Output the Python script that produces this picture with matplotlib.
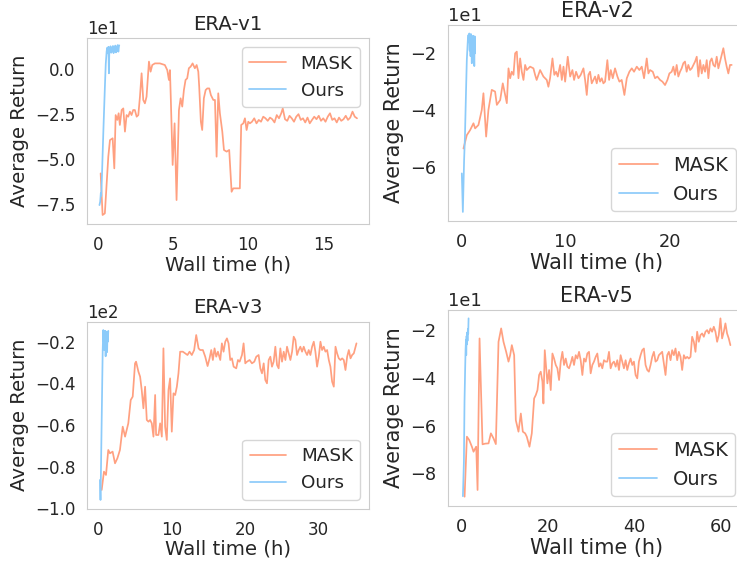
import matplotlib
matplotlib.use("Agg")
import matplotlib.pyplot as plt
import seaborn as sns

sns.set_style("whitegrid")
plt.rcParams['font.family'] = ['DejaVu Sans']

MASK_COLOR = "#FFA080"
OURS_COLOR = "#8CCBFA"

titles = ["ERA-v1", "ERA-v2", "ERA-v3", "ERA-v5"]
series_names = ["MASK", "Ours"]
xlabel = "Wall time (h)"
ylabel = "Average Return"

# ---------------- data (x: wall time in hours, y: average return) ----------------
mask_v1 = [(0.16, -57.8), (0.29, -80.9), (0.44, -80.0), (0.67, -48.5), (0.78, -39.3), (0.96, -38.3),
           (1.07, -55.0), (1.16, -25.4), (1.27, -28.1), (1.36, -24.4), (1.44, -30.9), (1.56, -22.6),
           (1.67, -21.7), (1.78, -34.6), (1.89, -25.4), (2.0, -26.3), (2.11, -23.5), (2.22, -25.4),
           (2.33, -22.6), (2.44, -22.6), (2.56, -26.3), (2.67, -25.4), (2.78, -15.2), (2.89, -2.2),
           (3.0, -17.0), (3.11, -18.9), (3.22, -15.2), (3.38, 4.3), (3.49, -1.3), (3.6, 2.4),
           (3.78, 3.3), (4.11, 3.3), (4.44, 2.4), (4.6, -0.4), (4.71, -5.9), (4.78, -0.4),
           (4.84, -17.0), (4.96, -53.1), (5.09, -30.0), (5.22, -72.6), (5.38, -22.6), (5.49, -16.1),
           (5.6, -20.7), (5.71, -11.5), (5.82, -5.9), (5.93, -5.0), (6.04, 0.6), (6.16, 1.5),
           (6.29, 3.3), (6.44, 0.6), (6.56, 2.4), (6.67, -1.3), (6.73, -9.6), (6.84, -29.1),
           (6.93, -33.7), (7.04, -16.1), (7.16, -11.5), (7.27, -10.6), (7.4, -10.6), (7.51, -14.3),
           (7.67, -17.0), (7.78, -17.0), (7.89, -48.5), (8.0, -13.3), (8.11, -24.4), (8.27, -34.6),
           (8.38, -44.8), (8.56, -45.7), (8.73, -44.8), (8.89, -68.0), (9.0, -66.1), (9.22, -66.1),
           (9.44, -66.1), (9.53, -30.9), (9.67, -30.0), (9.78, -27.2), (9.89, -33.7), (10.0, -29.1),
           (10.11, -30.0), (10.25, -29.1), (10.4, -27.2), (10.55, -30.0), (10.7, -28.1), (10.85, -29.1),
           (11.0, -26.3), (11.15, -27.2), (11.3, -28.6), (11.45, -26.8), (11.6, -27.7), (11.75, -29.5),
           (11.9, -25.4), (12.05, -27.2), (12.2, -24.4), (12.3, -21.7), (12.45, -27.7), (12.6, -28.6),
           (12.75, -25.8), (12.9, -27.2), (13.05, -29.1), (13.2, -26.3), (13.35, -24.9), (13.5, -28.1),
           (13.65, -27.2), (13.8, -29.5), (13.95, -26.8), (14.1, -30.0), (14.25, -28.1), (14.4, -26.3),
           (14.55, -27.7), (14.7, -25.8), (14.85, -28.6), (15.0, -27.2), (15.15, -29.1), (15.3, -26.3),
           (15.45, -24.4), (15.6, -28.1), (15.75, -27.2), (15.9, -29.5), (16.05, -26.8), (16.2, -28.6),
           (16.35, -27.7), (16.5, -25.8), (16.65, -28.1), (16.8, -26.8), (16.95, -23.5), (17.1, -26.3),
           (17.25, -27.2)]
ours_v1 = [(0.08, -75.4), (0.13, -73.5), (0.17, -68.8), (0.2, -70.2), (0.25, -58.5), (0.3, -45.0),
           (0.35, -32.0), (0.4, -20.0), (0.45, -8.0), (0.5, 3.0), (0.56, 10.0), (0.6, 12.0),
           (0.64, 8.9), (0.68, 12.5), (0.71, -2.2), (0.74, 11.0), (0.78, 9.5), (0.82, 12.8),
           (0.86, 9.2), (0.9, 12.0), (0.94, 10.0), (0.98, 13.0), (1.02, 9.0), (1.06, 12.2),
           (1.1, 10.5), (1.14, 13.2), (1.18, 9.4), (1.22, 12.6), (1.26, 10.2), (1.3, 13.5),
           (1.34, 9.8), (1.38, 12.8), (1.4, 13.3)]

mask_v2 = [(0.16, -53.6), (0.48, -48.9), (0.8, -47.1), (1.12, -44.7), (1.28, -46.5), (1.6, -45.3),
           (1.92, -40.0), (2.08, -34.1), (2.34, -49.4), (2.56, -40.0), (2.88, -32.9), (3.2, -33.5),
           (3.37, -38.2), (3.69, -36.5), (3.94, -30.6), (4.17, -34.7), (4.33, -37.6), (4.49, -25.3),
           (4.65, -28.8), (4.8, -26.5), (4.97, -27.6), (5.13, -20.0), (5.29, -19.4), (5.45, -28.8),
           (5.61, -21.8), (5.77, -26.5), (5.93, -29.4), (6.09, -24.1), (6.25, -25.9), (6.57, -24.7),
           (6.89, -25.3), (7.05, -27.6), (7.2, -29.4), (7.53, -25.9), (7.85, -28.2), (8.17, -29.4),
           (8.33, -31.8), (8.49, -28.8), (8.72, -21.8), (8.9, -27.6), (9.07, -26.5), (9.23, -28.2),
           (9.46, -24.1), (9.62, -29.4), (9.78, -24.7), (9.94, -30.0), (10.19, -21.2), (10.42, -28.2),
           (10.64, -25.9), (10.8, -29.4), (10.99, -26.5), (11.22, -28.8), (11.44, -27.6), (11.7, -25.3),
           (11.86, -29.4), (12.02, -34.7), (12.18, -27.6), (12.34, -26.5), (12.5, -30.6), (12.66, -29.4),
           (12.82, -28.2), (12.98, -30.6), (13.14, -27.6), (13.3, -30.0), (13.46, -28.8), (13.62, -30.6),
           (13.78, -30.0), (14.0, -22.4), (14.17, -29.4), (14.33, -25.9), (14.52, -28.8), (14.74, -25.3),
           (14.97, -28.2), (15.16, -30.0), (15.38, -29.4), (15.64, -34.7), (15.87, -28.8), (16.12, -26.5),
           (16.35, -25.3), (16.57, -26.5), (16.83, -24.7), (17.08, -25.9), (17.31, -24.7), (17.53, -28.8),
           (17.79, -21.8), (17.95, -27.1), (18.11, -25.9), (18.37, -26.5), (18.59, -28.8), (18.81, -28.2),
           (19.07, -29.4), (19.3, -30.0), (19.55, -31.2), (19.78, -29.4), (19.97, -27.1), (20.19, -26.5),
           (20.35, -24.7), (20.51, -27.6), (20.67, -24.1), (20.83, -28.2), (20.99, -26.5), (21.15, -25.3),
           (21.31, -23.5), (21.47, -22.9), (21.63, -26.5), (21.79, -24.1), (21.96, -25.9), (22.12, -25.3),
           (22.28, -24.1), (22.44, -22.9), (22.6, -21.2), (22.76, -28.2), (22.92, -22.4), (23.08, -27.1),
           (23.24, -24.1), (23.4, -26.5), (23.56, -22.4), (23.72, -28.8), (23.88, -22.9), (24.04, -21.8),
           (24.2, -24.1), (24.36, -24.7), (24.52, -21.2), (24.68, -25.3), (24.84, -22.9), (25.0, -20.6),
           (25.16, -18.2), (25.32, -21.8), (25.48, -24.7), (25.64, -27.1), (25.8, -24.1), (25.96, -24.1)]
ours_v2 = [(0.0, -62.4), (0.1, -76.0), (0.22, -57.7), (0.3, -49.5), (0.4, -34.1), (0.48, -22.4),
           (0.58, -15.3), (0.64, -13.5), (0.68, -16.0), (0.72, -13.0), (0.76, -19.0), (0.8, -14.0),
           (0.84, -21.0), (0.88, -13.2), (0.92, -17.5), (0.96, -23.5), (1.0, -14.5), (1.04, -19.5),
           (1.08, -13.8), (1.12, -22.0), (1.16, -16.5), (1.2, -24.5), (1.24, -14.0), (1.28, -20.0)]

mask_v3 = [(0.41, -91.2), (0.72, -82.4), (1.0, -84.0), (1.31, -72.0), (1.54, -73.6), (1.9, -72.8),
           (2.23, -78.4), (2.55, -76.0), (2.9, -72.0), (3.28, -60.8), (3.6, -65.6), (4.04, -59.2),
           (4.37, -48.0), (4.64, -46.4), (4.96, -30.4), (5.1, -29.6), (5.42, -34.4), (5.65, -36.8),
           (5.87, -43.2), (6.1, -52.0), (6.33, -41.6), (6.56, -57.6), (6.79, -58.4), (7.01, -57.6),
           (7.24, -59.2), (7.47, -65.6), (7.7, -45.6), (7.83, -64.8), (8.15, -64.8), (8.38, -59.2),
           (8.61, -65.6), (8.83, -23.2), (9.06, -60.8), (9.29, -67.2), (9.52, -43.2), (9.74, -37.6),
           (9.97, -63.2), (10.2, -44.8), (10.43, -45.6), (10.66, -41.6), (10.88, -35.2), (11.11, -24.8),
           (11.48, -24.8), (11.79, -25.6), (12.11, -26.4), (12.39, -24.8), (12.7, -26.4), (13.02, -24.0),
           (13.3, -16.8), (13.62, -23.2), (13.84, -24.0), (14.21, -24.0), (14.53, -27.2), (14.85, -31.7),
           (15.12, -28.0), (15.35, -24.0), (15.57, -28.8), (15.8, -23.2), (16.03, -27.2), (16.26, -24.8),
           (16.58, -28.8), (16.8, -20.8), (17.03, -24.8), (17.26, -20.0), (17.49, -18.4), (17.71, -20.8),
           (17.94, -28.8), (18.17, -28.0), (18.4, -32.0), (18.76, -32.8), (18.99, -28.8), (19.22, -29.6),
           (19.54, -26.4), (19.76, -20.8), (19.99, -30.4), (20.22, -29.6), (20.58, -28.8), (20.9, -30.4),
           (21.22, -29.6), (21.49, -27.2), (21.81, -26.4), (22.04, -32.8), (22.27, -35.2), (22.5, -30.4),
           (22.72, -38.4), (22.95, -40.0), (23.18, -28.8), (23.41, -27.2), (23.63, -32.0), (23.86, -29.6),
           (24.09, -22.4), (24.32, -31.2), (24.54, -32.8), (24.77, -23.2), (25.0, -29.6), (25.23, -24.8),
           (25.46, -28.8), (25.68, -22.4), (25.91, -25.6), (26.14, -28.8), (26.37, -24.8), (26.59, -17.6),
           (26.82, -19.2), (27.05, -26.4), (27.28, -24.0), (27.5, -22.4), (27.73, -24.8), (27.96, -22.4),
           (28.19, -24.8), (28.42, -26.4), (28.64, -24.0), (28.87, -26.4), (29.1, -22.4), (29.33, -20.0),
           (29.55, -24.8), (29.78, -32.0), (30.01, -27.2), (30.24, -20.0), (30.46, -24.0), (30.69, -22.4),
           (30.92, -24.8), (31.15, -24.0), (31.38, -28.8), (31.6, -32.0), (31.83, -39.2), (32.06, -41.6),
           (32.29, -22.4), (32.51, -25.6), (32.74, -28.0), (32.97, -28.8), (33.2, -28.0), (33.42, -28.8),
           (33.65, -33.6), (33.88, -27.2), (34.11, -24.0), (34.34, -28.0), (34.56, -26.4), (34.79, -25.6),
           (35.15, -20.8)]
ours_v3 = [(0.18, -86.4), (0.25, -96.0), (0.32, -80.0), (0.45, -48.0), (0.55, -24.0), (0.63, -14.4),
           (0.68, -20.0), (0.72, -15.0), (0.76, -24.0), (0.8, -16.0), (0.85, -22.0), (0.9, -14.8),
           (0.95, -27.0), (1.0, -17.0), (1.05, -21.5), (1.1, -15.2), (1.15, -25.0), (1.2, -16.5),
           (1.25, -20.0), (1.31, -14.8)]

mask_v5 = [(0.62, -89.7), (1.15, -64.6), (1.69, -66.0), (2.31, -68.8), (2.69, -70.9), (3.08, -69.5),
           (3.31, -68.8), (3.62, -86.9), (4.08, -23.5), (4.77, -67.8), (5.39, -67.5), (6.16, -67.4),
           (6.7, -63.2), (7.31, -65.3), (7.85, -67.7), (8.47, -24.9), (9.08, -19.3), (9.62, -24.9),
           (10.24, -29.1), (10.78, -33.2), (11.16, -30.5), (11.55, -26.3), (12.09, -30.5), (12.47, -57.7),
           (13.09, -62.5), (13.63, -54.9), (14.09, -62.5), (14.63, -63.2), (15.01, -64.6), (15.63, -68.8),
           (16.17, -63.2), (16.71, -48.6), (17.09, -47.2), (17.48, -45.1), (17.86, -38.8), (18.24, -37.4),
           (18.63, -41.6), (18.86, -50.7), (19.17, -28.4), (19.48, -35.3), (19.78, -42.3), (20.17, -36.7),
           (20.55, -45.1), (20.94, -29.8), (21.32, -31.9), (21.71, -34.6), (22.09, -36.0), (22.48, -40.9),
           (22.86, -33.2), (23.25, -29.1), (23.63, -34.6), (24.02, -31.9), (24.4, -35.3), (24.79, -36.0),
           (25.17, -33.9), (25.56, -31.2), (25.94, -34.6), (26.33, -30.5), (26.71, -31.9), (27.1, -29.1),
           (27.48, -32.6), (27.87, -38.8), (28.25, -31.9), (28.64, -33.2), (29.02, -29.8), (29.41, -29.1),
           (29.79, -38.1), (30.18, -34.6), (30.56, -33.2), (30.95, -31.2), (31.33, -29.8), (31.72, -35.3),
           (32.1, -33.9), (32.49, -36.0), (32.87, -32.6), (33.26, -33.2), (33.64, -33.2), (34.03, -29.1),
           (34.41, -36.0), (34.8, -33.9), (35.18, -33.2), (35.57, -35.3), (35.95, -32.6), (36.34, -36.7),
           (36.72, -30.5), (37.11, -33.2), (37.49, -36.0), (37.88, -32.6), (38.26, -36.7), (38.65, -33.9),
           (39.03, -31.9), (39.42, -34.6), (39.8, -33.2), (40.18, -38.8), (40.57, -40.2), (40.95, -33.2),
           (41.34, -30.5), (41.72, -28.4), (42.11, -27.7), (42.49, -34.6), (42.88, -36.7), (43.26, -37.4),
           (43.65, -34.6), (44.03, -31.2), (44.42, -29.1), (44.8, -33.2), (45.19, -32.6), (45.57, -30.5),
           (45.96, -29.8), (46.34, -29.1), (46.73, -33.9), (47.11, -38.8), (47.5, -30.5), (47.88, -29.1),
           (48.27, -32.6), (48.65, -28.4), (49.04, -30.5), (49.42, -27.7), (49.81, -32.6), (50.19, -29.1),
           (50.58, -31.2), (50.96, -36.7), (51.35, -30.5), (51.73, -31.9), (52.12, -31.2), (52.5, -31.9),
           (52.89, -31.2), (53.27, -22.8), (53.66, -24.9), (54.04, -29.1), (54.43, -20.7), (54.81, -24.9),
           (55.2, -22.1), (55.58, -21.4), (55.97, -22.8), (56.35, -20.7), (56.74, -20.0), (57.12, -21.4),
           (57.51, -19.3), (57.89, -20.7), (58.28, -18.6), (58.66, -20.7), (59.05, -24.9), (59.43, -22.1),
           (59.82, -15.1), (60.2, -23.5), (60.59, -20.7), (60.97, -17.2), (61.35, -21.4), (61.74, -23.5),
           (62.12, -26.3)]
ours_v5 = [(0.23, -89.5), (0.46, -75.0), (0.6, -50.0), (0.75, -36.0), (0.85, -28.0), (0.95, -24.0),
           (1.0, -30.5), (1.08, -22.5), (1.15, -26.0), (1.23, -21.0), (1.3, -24.5), (1.38, -19.5),
           (1.46, -21.5), (1.54, -15.1)]

mask_runs = [mask_v1, mask_v2, mask_v3, mask_v5]
ours_runs = [ours_v1, ours_v2, ours_v3, ours_v5]

# ---------------- layout / axes settings ----------------
W, H = 737, 562
# axes boxes in pixels: left, top, right, bottom
boxes = [(87, 38, 369, 224), (448.3, 25, 745.6, 221), (87.3, 321.7, 369.3, 508.7), (448.3, 310, 745, 506)]
xlims = [(-0.75, 18.05), (-1.3, 27.3), (-1.55, 36.9), (-3.15, 65.5)]
ylims = [(-85.9, 17.4), (-79.2, -10.0), (-100.2, -10.4), (-93.6, -11.6)]
xticks = [[0, 5, 10, 15], [0, 10, 20], [0, 10, 20, 30], [0, 20, 40, 60]]
yticks = [[-75, -50, -25, 0], [-60, -40, -20], [-100, -80, -60, -40, -20], [-80, -60, -40, -20]]
legend_locs = ["upper right", "lower right", "lower right", "lower right"]
scales = [1.0, 1.055, 1.0, 1.055]

fig = plt.figure(figsize=(W / 100, H / 100), dpi=100)
text_color = "#262626"

for i in range(4):
    s = scales[i]
    l, t, r, b = boxes[i]
    ax = fig.add_axes([l / W, 1 - b / H, (r - l) / W, (b - t) / H])
    mx, my = zip(*mask_runs[i])
    ox, oy = zip(*ours_runs[i])
    ax.plot(mx, my, color=MASK_COLOR, lw=1.25, label=series_names[0])
    ax.plot(ox, oy, color=OURS_COLOR, lw=1.25, label=series_names[1])
    ax.set_xlim(*xlims[i])
    ax.set_ylim(*ylims[i])
    ax.set_xticks(xticks[i])
    ax.set_yticks(yticks[i])
    ax.grid(False)
    ax.ticklabel_format(axis="y", style="sci", scilimits=(0, 0))
    ax.tick_params(labelsize=12.1 * s, colors=text_color, pad=5 * s)
    ax.yaxis.get_offset_text().set_fontsize(12.1 * s)
    ax.yaxis.get_offset_text().set_color(text_color)
    ax.set_title(titles[i], fontsize=14.2 * s, color=text_color)
    ax.set_xlabel(xlabel, fontsize=14.2 * s, color=text_color, labelpad=1)
    ax.set_ylabel(ylabel, fontsize=14.2 * s, color=text_color)
    for sp in ax.spines.values():
        sp.set_color("#cccccc")
    leg = ax.legend(loc=legend_locs[i], fontsize=13.2 * s, frameon=True)
    for txt in leg.get_texts():
        txt.set_color(text_color)

fig.savefig("out.png", dpi=100)
